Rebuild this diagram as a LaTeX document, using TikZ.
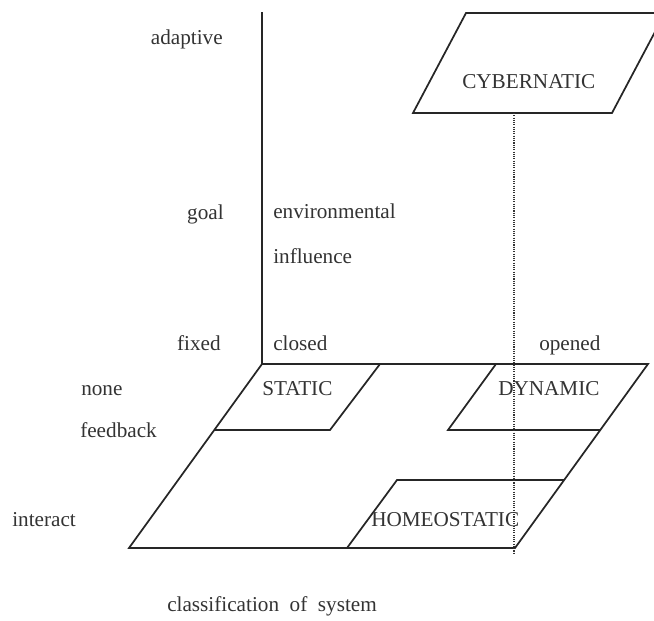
\documentclass[tikz,border=0pt]{standalone}
\usepackage{fontspec}
\setmainfont{Liberation Serif}
\begin{document}
\begin{tikzpicture}[x=0.75pt,y=-0.75pt,
  edge/.style={draw=black!85,line width=1.3pt,line join=miter},
  guide/.style={draw=black!80,line width=0.8pt,dash pattern=on 0.8pt off 0.9pt},
  lbl/.style={inner sep=0pt,text=black!80,font=\fontsize{15.9}{19}\selectfont},
  lblr/.style={lbl,anchor=base east},
  lbll/.style={lbl,anchor=base west}]
\useasboundingbox (0,0) rectangle (654,621);
\begin{scope}
\clip (0,0) rectangle (654,621);

% corner points of the base plane
\coordinate (o)  at (262,364);
\coordinate (br) at (648,364);
\coordinate (fr) at (515,548);
\coordinate (fl) at (129,548);

% vertical axis
\coordinate (top) at (262,12);
\draw[edge] (top) -- (o);

% base plane
\draw[edge] (o) -- (br) -- (fr) -- (fl) -- cycle;

% STATIC cell
\coordinate (s1) at (380,364);
\coordinate (s2) at (330,430);
\coordinate (s3) at (214.3,430);
\draw[edge] (s1) -- (s2) -- (s3);

% DYNAMIC cell
\coordinate (d1) at (496,364);
\coordinate (d2) at (448,430);
\coordinate (d3) at (600.3,430);
\draw[edge] (d1) -- (d2) -- (d3);

% HOMEOSTATIC cell
\coordinate (h1) at (347,548);
\coordinate (h2) at (397,480);
\coordinate (h3) at (564.2,480);
\draw[edge] (h1) -- (h2) -- (h3);

% CYBERNATIC plane
\coordinate (c1) at (413,113);
\coordinate (c2) at (466,13);
\coordinate (c3) at (665,13);
\coordinate (c4) at (612,113);
\draw[edge] (c1) -- (c2) -- (c3) -- (c4) -- cycle;

% projection line
\coordinate (p1) at (514,113);
\coordinate (p2) at (514,553);
\draw[guide] (p1) -- (p2);
\end{scope}

% axis labels
\node[lblr] (adaptive) at (223,44) {adaptive};
\node[lblr] (goal) at (224,219) {goal};
\node[lblr] (fixed) at (221,350) {fixed};
\node[lbll] (none) at (81,395) {none};
\node[lbll] (feedback) at (80,437) {feedback};
\node[lbll] (interact) at (12,526) {interact};
\node[lbll] (env) at (273,218) {environmental};
\node[lbll] (infl) at (273,263) {influence};
\node[lbll] (closed) at (273,350) {closed};
\node[lbll] (opened) at (539,350) {opened};

% cell names
\node[lbll] (static) at (262,395) {STATIC};
\node[lbll] (dynamic) at (498,395) {DYNAMIC};
\node[lbll] (homeo) at (371,526) {HOMEOSTATIC};
\node[lbll] (cyber) at (462,88) {CYBERNATIC};

% caption
\node[lbll] (caption) at (167,611) {classification\hspace{0.5em}of\hspace{0.5em}system};
\end{tikzpicture}
\end{document}
